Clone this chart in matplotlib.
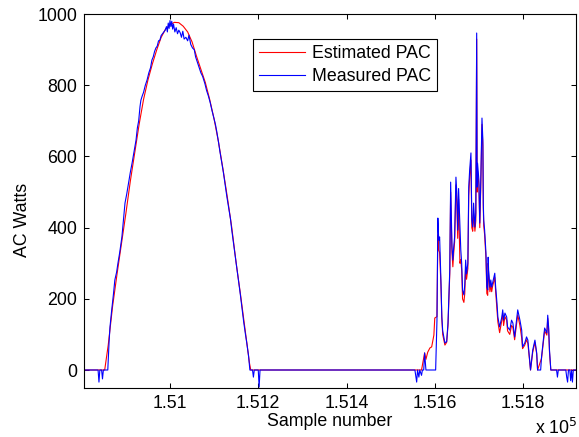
#!/usr/bin/env python
"""Estimated vs measured AC power around two production events."""
from __future__ import annotations

import matplotlib

matplotlib.use("Agg")
from matplotlib import pyplot as plt
from matplotlib.ticker import FuncFormatter

# (sample number, AC watts)
meas_bell = [
    (150805, 0), (150837, 0), (150839, -34), (150841, 0), (150845, 0), (150847, -25),
    (150849, 0), (150859, 0), (150862, 80), (150864, 121), (150868, 170), (150872, 215),
    (150875, 253), (150879, 275), (150882, 300), (150886, 330), (150891, 374), (150895, 430),
    (150898, 469), (150902, 495), (150906, 525), (150910, 555), (150914, 581), (150918, 610),
    (150923, 646), (150926, 680), (150929, 700), (150932, 740), (150934, 758), (150937, 770),
    (150940, 780), (150944, 800), (150948, 815), (150952, 835), (150956, 850), (150959, 871),
    (150962, 880), (150965, 895), (150968, 905), (150971, 910), (150974, 925), (150977, 927),
    (150980, 940), (150983, 945), (150986, 950), (150989, 955), (150992, 965), (150994, 950),
    (150996, 975), (150998, 960), (151000, 982), (151002, 965), (151004, 980), (151006, 958),
    (151008, 972), (151011, 950), (151014, 962), (151017, 945), (151020, 955), (151023, 948),
    (151026, 935), (151029, 952), (151032, 930), (151036, 935), (151040, 925), (151043, 941),
    (151047, 915), (151051, 905), (151055, 900), (151058, 880), (151062, 865), (151066, 850),
    (151070, 835), (151074, 825), (151079, 805), (151083, 785), (151087, 770), (151091, 752),
    (151095, 730), (151099, 710), (151103, 690), (151106, 670), (151110, 640), (151113, 615),
    (151117, 585), (151121, 555), (151125, 520), (151129, 486), (151133, 455), (151137, 425),
    (151140, 393), (151144, 355), (151148, 318), (151152, 281), (151156, 245), (151159, 216),
    (151163, 175), (151167, 135), (151171, 100), (151174, 76), (151178, 40), (151181, 0),
    (151187, 0), (151189, -20), (151191, 0), (151200, 0), (151202, -48), (151204, 0),
]
meas_gap = [
    (151555, 0), (151559, -34), (151561, 0), (151564, -20), (151566, 0), (151570, -15),
    (151572, 0), (151575, 0), (151577, 48), (151580, 0), (151602, 0),
]
meas_cluster = [
    (151605, 140), (151607, 427), (151609, 365), (151611, 374), (151614, 250), (151616, 150),
    (151618, 110), (151623, 76), (151627, 80), (151630, 132), (151634, 281), (151636, 528),
    (151639, 346), (151641, 309), (151643, 346), (151645, 374), (151648, 542), (151650, 497),
    (151652, 393), (151654, 510), (151657, 402), (151659, 337), (151661, 300), (151663, 225),
    (151666, 211), (151668, 240), (151670, 309), (151672, 270), (151675, 300), (151677, 514),
    (151679, 560), (151682, 610), (151684, 421), (151686, 402), (151688, 469), (151691, 402),
    (151693, 441), (151695, 947), (151696, 514), (151697, 581), (151700, 534), (151702, 413),
    (151704, 514), (151707, 708), (151709, 646), (151710, 469), (151711, 421), (151713, 393),
    (151716, 329), (151718, 233), (151720, 225), (151721, 317), (151722, 281), (151725, 233),
    (151727, 253), (151729, 233), (151731, 244), (151736, 272), (151738, 233), (151741, 188),
    (151743, 149), (151747, 121), (151752, 149), (151754, 169), (151756, 140), (151759, 160),
    (151763, 149), (151765, 121), (151770, 112), (151774, 140), (151777, 132), (151781, 93),
    (151788, 169), (151793, 140), (151797, 112), (151799, 65), (151804, 76), (151808, 93),
    (151811, 84), (151815, 28), (151817, 0), (151822, 56), (151827, 84), (151831, 48),
    (151833, 0), (151840, 0), (151842, 37), (151849, 118), (151854, 104), (151856, 154),
    (151858, 121), (151860, 56), (151863, 0),
]
meas_tail = [
    (151876, 0), (151878, -20), (151880, 0), (151897, 0), (151899, -20), (151901, -34),
    (151903, 0), (151906, 0), (151908, -30), (151910, 0), (151912, -34), (151914, 0),
    (151919, 0),
]

est_bell = [
    (150805, 0), (150852, 0), (150860, 70), (150870, 180), (150880, 270), (150890, 355),
    (150900, 440), (150910, 530), (150920, 610), (150930, 690), (150940, 760), (150950, 815),
    (150960, 860), (150970, 900), (150980, 935), (150990, 958), (151000, 970), (151010, 977),
    (151020, 976), (151030, 966), (151040, 950), (151050, 922), (151060, 882), (151070, 845),
    (151080, 808), (151090, 760), (151100, 705), (151110, 640), (151120, 565), (151130, 485),
    (151140, 400), (151150, 300), (151160, 210), (151170, 115), (151180, 20), (151183, 0),
    (151570, 0),
]
est_cluster = [
    (151573, 20), (151577, 48), (151580, 30), (151584, 50), (151589, 62), (151593, 65),
    (151598, 98), (151600, 146), (151605, 150), (151607, 380), (151609, 337), (151611, 330),
    (151614, 240), (151616, 145), (151618, 100), (151623, 70), (151627, 78), (151630, 125),
    (151634, 270), (151636, 500), (151639, 330), (151641, 290), (151643, 330), (151645, 360),
    (151648, 520), (151650, 470), (151652, 370), (151654, 480), (151657, 300), (151659, 310),
    (151661, 280), (151663, 200), (151666, 190), (151668, 215), (151670, 290), (151672, 255),
    (151675, 285), (151677, 490), (151679, 540), (151682, 590), (151684, 400), (151686, 390),
    (151688, 440), (151691, 390), (151693, 420), (151695, 930), (151696, 500), (151697, 560),
    (151700, 520), (151702, 400), (151704, 500), (151707, 690), (151709, 630), (151710, 455),
    (151711, 405), (151713, 380), (151716, 315), (151718, 215), (151720, 210), (151721, 300),
    (151722, 270), (151725, 220), (151727, 240), (151729, 220), (151731, 235), (151736, 260),
    (151738, 220), (151741, 170), (151743, 135), (151747, 105), (151752, 140), (151754, 160),
    (151756, 125), (151759, 150), (151763, 140), (151765, 110), (151770, 100), (151774, 125),
    (151777, 120), (151781, 85), (151788, 155), (151793, 125), (151797, 90), (151799, 60),
    (151804, 70), (151808, 85), (151811, 75), (151815, 25), (151817, 0), (151822, 50),
    (151827, 78), (151831, 45), (151833, 0), (151842, 33), (151849, 110), (151854, 98),
    (151856, 145), (151858, 115), (151860, 50), (151863, 0), (151919, 0),
]

x_ticks = [151000, 151200, 151400, 151600, 151800]
y_ticks = [0, 200, 400, 600, 800, 1000]


def unzip(*segments):
    pts = [p for seg in segments for p in seg]
    return [p[0] for p in pts], [p[1] for p in pts]


def main() -> None:
    plt.rcParams["font.family"] = ["Liberation Sans", "DejaVu Sans"]
    fs = 12.8

    fig = plt.figure(figsize=(5.79, 4.37), dpi=100)
    ax = fig.add_axes([0.145, 0.1126, 0.849, 0.855])

    ex, ew = unzip(est_bell, est_cluster)
    mx, mw = unzip(meas_bell, meas_gap, meas_cluster, meas_tail)
    ax.plot(ex, ew, color="#ff0000", linewidth=0.8, label="Estimated PAC")
    ax.plot(mx, mw, color="#0000ff", linewidth=0.8, label="Measured PAC")

    ax.set_xlim(150805, 151919)
    ax.set_ylim(-50, 1000)
    ax.set_xticks(x_ticks)
    ax.set_yticks(y_ticks)
    ax.xaxis.set_major_formatter(FuncFormatter(lambda v, _: f"{v / 1e5:g}"))
    ax.tick_params(direction="in", length=3.6, width=0.75, top=True, right=True,
                   labelsize=fs, pad=5)
    for sp in ax.spines.values():
        sp.set_linewidth(0.8)

    ax.set_xlabel("Sample number", fontsize=fs)
    ax.set_ylabel("AC Watts", fontsize=fs)
    ax.xaxis.set_label_coords(0.5, -0.068)
    ax.yaxis.set_label_coords(-0.108, 0.449)
    fig.text(535 / 579, 1 - 428 / 437, r"x 10$^{5}$", fontsize=fs, va="center")

    leg = ax.legend(loc="upper right", bbox_to_anchor=(0.718, 0.933), fontsize=fs,
                    fancybox=False, framealpha=1, edgecolor="black",
                    handlelength=2.6, handletextpad=0.35, labelspacing=0.3,
                    borderpad=0.35, borderaxespad=0)
    leg.get_frame().set_linewidth(0.8)

    fig.savefig("out.png", dpi=100)
    plt.close(fig)


if __name__ == "__main__":
    main()
